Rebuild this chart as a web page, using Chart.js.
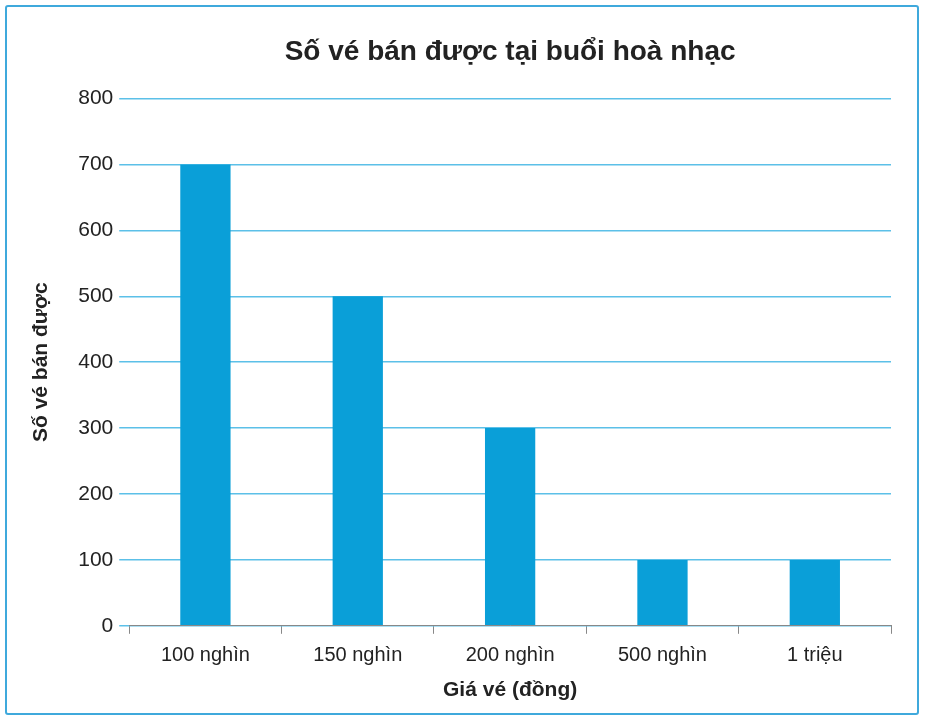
<!DOCTYPE html>
<html><head><meta charset="utf-8">
<script src="https://cdn.jsdelivr.net/npm/chart.js@4"></script>
<style>
html,body{margin:0;padding:0;background:#fff;}
#wrap{position:absolute;left:5px;top:5px;width:914px;height:710px;border:2px solid #3fa9dc;border-radius:3px;box-sizing:border-box;}
canvas{display:block;}
</style></head><body>
<div id="wrap"><canvas id="c"></canvas></div>
<script>
const categories = ["100 nghìn","150 nghìn","200 nghìn","500 nghìn","1 triệu"];
const values = [700,500,300,100,100];
const yTicks = [0,100,200,300,400,500,600,700,800];
new Chart(document.getElementById('c'),{
  type:'bar',
  data:{labels:categories,datasets:[{data:values,backgroundColor:'#0a9fd8',barPercentage:0.33,categoryPercentage:1}]},
  options:{
    responsive:true,maintainAspectRatio:false,animation:false,
    layout:{padding:{left:18,right:26,top:10,bottom:0}},
    plugins:{legend:{display:false},tooltip:{enabled:false},
      title:{display:true,fullSize:false,text:'Số vé bán được tại buổi hoà nhạc',color:'#222',font:{family:'Liberation Sans',size:28,weight:'bold'},padding:{top:18,bottom:30}}},
    scales:{
      x:{grid:{display:true,drawOnChartArea:false,drawTicks:true,tickLength:8,color:'#888',offset:true},
        border:{color:'#888'},
        ticks:{color:'#222',font:{family:'Liberation Sans',size:20},padding:10},
        title:{display:true,text:'Giá vé (đồng)',color:'#222',font:{family:'Liberation Sans',size:21,weight:'bold'},padding:{top:0,bottom:10}}},
      y:{min:0,max:800,afterBuildTicks:a=>{a.ticks=yTicks.map(v=>({value:v}));},
        grid:{color:'#5cc0e8',lineWidth:1.5,drawTicks:true,tickLength:10},
        border:{display:false},
        ticks:{color:'#222',font:{family:'Liberation Sans',size:21},padding:6},
        title:{display:true,text:'Số vé bán được',color:'#222',font:{family:'Liberation Sans',size:21,weight:'bold'},padding:{bottom:18}}}
    }
  }
});
</script></body></html>
